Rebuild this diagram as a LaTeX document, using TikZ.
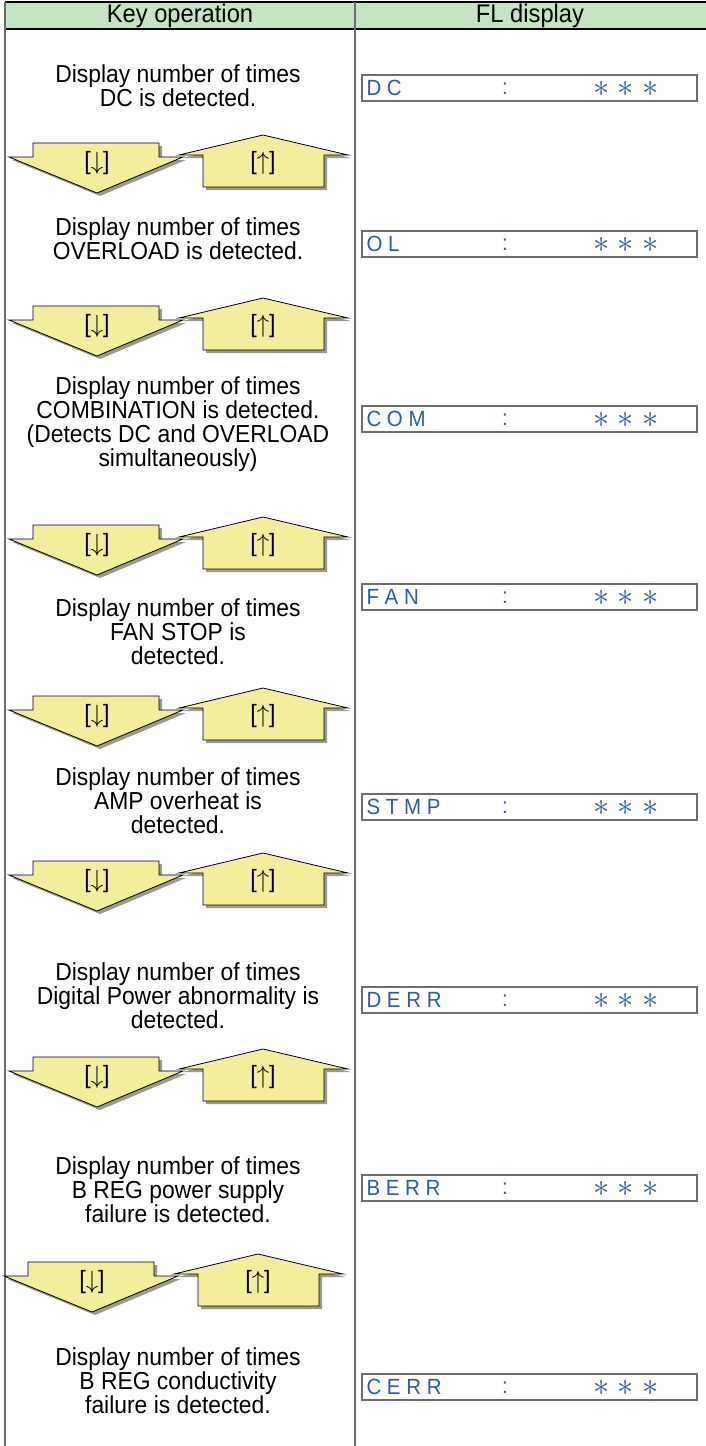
\documentclass[tikz,border=0pt]{standalone}
\usepackage{fontspec}
\setmainfont[FakeStretch=0.93]{Liberation Sans}
\usetikzlibrary{positioning}
\definecolor{hdrgreen}{HTML}{C6E4C4}
\definecolor{keyyellow}{HTML}{F2EE9C}
\definecolor{flblue}{HTML}{2A5CAA}
\definecolor{rulegray}{HTML}{6E6E6E}
\newcommand\flstar{\scalebox{1.3}{$\ast$}}
\tikzset{hdr/.style={font=\fontsize{25.5}{24}\selectfont,inner sep=0pt},
  desc/.style={align=center,font=\fontsize{24.6}{24}\selectfont,inner sep=0pt},
  flbox/.style={draw=rulegray,line width=1.3pt,minimum width=335pt,minimum height=26pt,inner sep=0pt},
  fltxt/.style={text=flblue,font=\fontsize{22}{24}\selectfont,inner sep=0pt},
  flast/.style={text=flblue,font=\fontsize{24}{24}\selectfont,inner sep=0pt},
  keyarr/.style={fill=keyyellow,draw=black,line width=0.8pt},
  keyshadow/.style={fill=black!40},
  keylbl/.style={font=\fontsize{25}{26}\selectfont,inner sep=0pt},
  downkey/.pic={
    \fill[keyshadow] (36,-17) -- (162,-17) -- (162,-3) -- (186,-3) -- (100,33) -- (12,-3) -- (36,-3) -- cycle;
    \draw[keyarr] (33,-20) -- (159,-20) -- (159,-6) -- (183,-6) -- (97,30) -- (9,-6) -- (33,-6) -- cycle;
    \node[keylbl] (-lbl) at (97,0) {[$\downarrow$]};
  },
  upkey/.pic={
    \fill[keyshadow] (266,-25) -- (351,-5) -- (327,-5) -- (327,27) -- (206,27) -- (206,-5) -- (182,-5) -- cycle;
    \draw[keyarr] (263,-28) -- (348,-8) -- (324,-8) -- (324,24) -- (203,24) -- (203,-8) -- (179,-8) -- cycle;
    \node[keylbl] (-lbl) at (263,0) {[$\uparrow$]};
  }}

\begin{document}
\begin{tikzpicture}[x=1pt,y=-1pt]
\useasboundingbox (0,0) rectangle (706,1446);
% table frame
\fill[hdrgreen] (5,2) rectangle (706,29);
\draw[line width=1.2pt] (5,2) -- (706,2) (5,29) -- (706,29);
\draw[rulegray,line width=1.3pt] (5,2) -- (5,1446) (355,2) -- (355,1446);
\node[hdr] (keyhead) at (180,16) {Key operation};
\node[hdr] (flhead) at (530,16) {FL display};
% descriptions and FL display boxes
\foreach \n/\ty/\txt/\by/\fl in {
  1/86/{Display number of times\\DC is detected.}/88/{D C},
  2/239/{Display number of times\\OVERLOAD is detected.}/244/{O L},
  3/424/{Display number of times\\COMBINATION is detected.\\(Detects DC and OVERLOAD\\simultaneously)}/419/{C O M},
  4/632/{Display number of times\\FAN STOP is\\detected.}/597/{F A N},
  5/801/{Display number of times\\AMP overheat is\\detected.}/807/{S T M P},
  6/996/{Display number of times\\Digital Power abnormality is\\detected.}/1000/{D E R R},
  7/1190/{Display number of times\\B REG power supply\\failure is detected.}/1188/{B E R R},
  8/1381/{Display number of times\\B REG conductivity\\failure is detected.}/1387/{C E R R}}{
  \node[desc] (desc\n) at (178,\ty) {\txt};
  \node[flbox] (flbox\n) at (529.5,\by) {};
  \node[fltxt,anchor=west] (flname\n) at ([xshift=5pt]flbox\n.west) {\fl};
  \node[fltxt] (flcolon\n) at (505,\by+1) {:};
  \node[flast] (flval\n) at (626,\by+1) {\flstar\hspace{8.5pt}\flstar\hspace{8.5pt}\flstar};
}
% key arrows
\foreach \n/\L/\dx in {1/163/0,2/326/0,3/545/0,4/716/0,5/881/0,6/1077/0,7/1282/-5}{
  \pic (down\n) at (\dx,\L) {downkey};
  \pic (up\n) at (\dx,\L) {upkey};
}
\end{tikzpicture}
\end{document}
